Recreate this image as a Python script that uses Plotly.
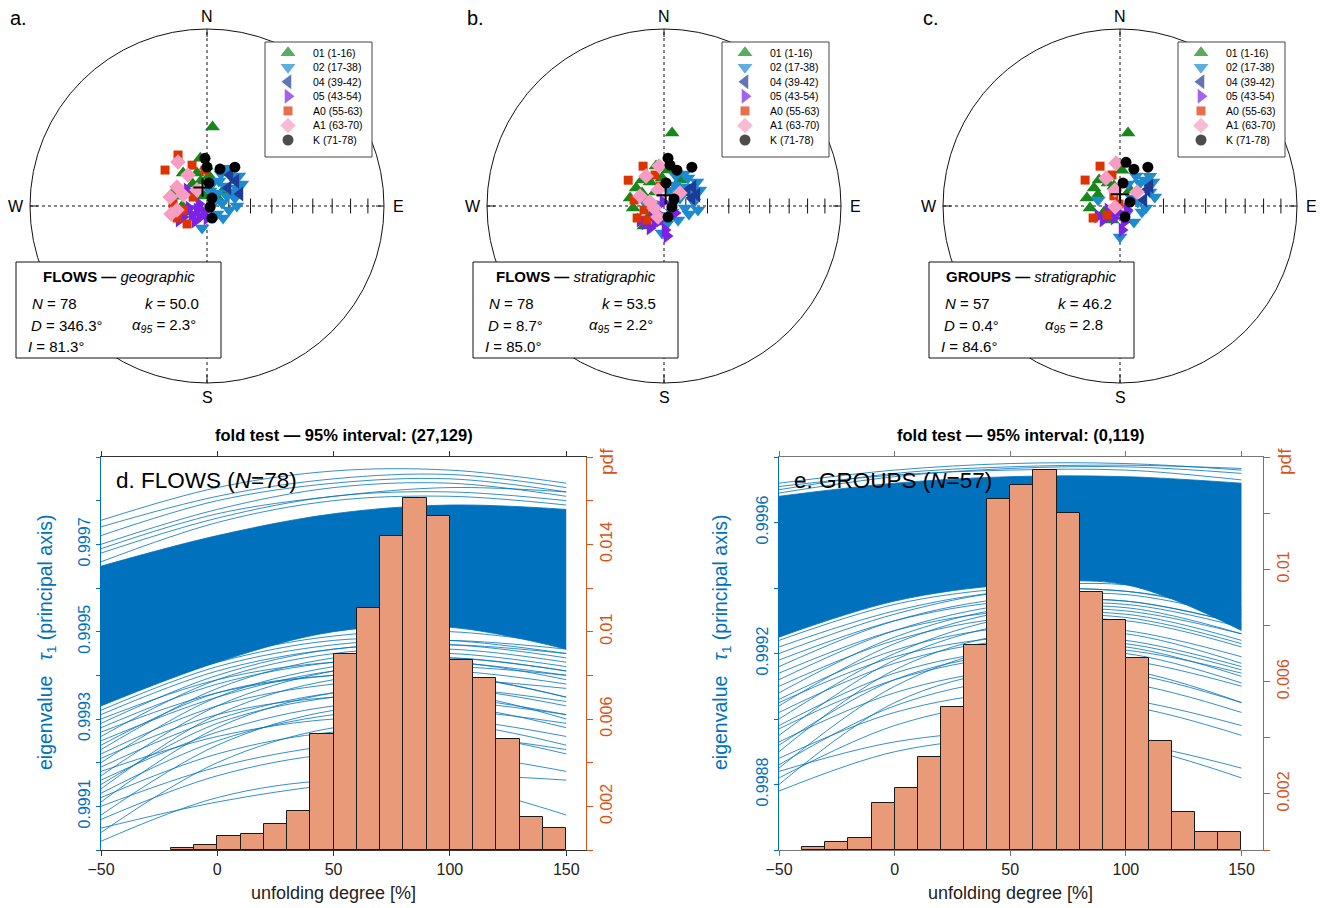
import math
import plotly.graph_objects as go

W, H = 1322, 908
FONT = "Liberation Sans, Arial, Helvetica, sans-serif"
BLUE = "#0072BD"
ORANGE = "#D95319"
SALMON = "#E99A79"

# ---------------- stereonet data: (declination, inclination) in degrees ----------------
GROUP_LABELS = ["01 (1-16)", "02 (17-38)", "04 (39-42)", "05 (43-54)",
                "A0 (55-63)", "A1 (63-70)", "K (71-78)"]
GROUP_SYMBOLS = ["triangle-up", "triangle-down", "triangle-left", "triangle-right",
                 "square", "diamond", "circle"]
GROUP_COLORS = ["#17871a", "#1d8bcf", "#1f3b98", "#7b22e4", "#dd3300", "#f79cc2", "#000000"]
GROUP_SIZES = [13, 13, 13, 13, 9, 12, 11]

# FLOWS, geographic coordinates
geo_01 = [(4, 53.1), (324, 71.3), (343, 74.2), (297, 73.6), (319, 81.6), (47, 80.6), (359, 71.7),
          (352, 67.8), (288, 75.5), (270, 78.6), (253, 80.4), (346, 78.2), (69, 83.6), (327, 78.0),
          (343, 85.2), (4, 76.2)]
geo_02 = [(27.8, 70.4), (59, 74.0), (37.6, 82.5), (78.7, 83.0), (192.8, 79.7), (41.8, 72.8),
          (25.6, 77.3), (74, 76.7), (42, 77.7), (58, 85.7), (46.8, 69.9), (100.3, 79.7),
          (12.8, 79.7), (23.6, 74.0), (61.7, 76.5), (57.8, 71.1), (128.7, 84.1), (11.3, 83.0),
          (63.4, 79.8), (126.9, 80.8), (90, 76.3)]
geo_04 = [(36.6, 72.3), (49.4, 77.3), (49.2, 72.5), (70, 73.9)]
geo_05 = [(245.4, 77.9), (248.2, 85.1), (212.5, 84.0), (308.7, 78.3), (243.4, 75.7), (239, 82.0),
          (206.6, 86.9), (263.7, 81.7), (218.7, 81.2), (259.1, 77.9), (180, 84.5), (284, 86.2)]
geo_A0 = [(330.4, 62.9), (310.6, 64.5), (339.9, 70.0), (356.8, 73.5), (302.7, 82.4), (260.5, 78.9),
          (248.2, 75.2), (228, 77.7), (273.4, 74.4)]
geo_A1 = [(326.6, 65.7), (328.5, 73.3), (302.3, 73.7), (283.7, 72.6), (294.6, 77.9), (328, 81.3),
          (262.4, 76.1), (257.5, 73.1)]
geo_K = [(357.6, 68.0), (0, 72.1), (19.4, 72.0), (35.7, 68.0), (5, 79.4), (32, 85.7), (108, 88.5),
         (157.4, 84.0)]

# FLOWS, stratigraphic coordinates
str_01 = [(6.3, 55.9), (319.8, 74.4), (329.7, 77.3), (355.9, 77.1), (283.2, 74.0), (266.3, 75.8),
          (300.6, 78.3), (327.3, 82.4), (31.6, 76.0), (302.7, 74.8), (233.1, 80.8), (6.3, 73.4),
          (348.7, 71.3), (190.6, 82.5), (45, 82.2), (225, 77.0)]
str_02 = [(286, 80.0), (40.6, 73.1), (54, 71.3), (45, 77.7), (63.4, 81.8), (95.4, 80.3),
          (184.2, 77.6), (27.6, 79.1), (61.7, 76.5), (82.4, 76.1), (126.9, 85.4), (135, 80.9),
          (66, 72.0), (32, 72.7), (17.4, 82.3), (288.4, 87.1), (107.7, 78.0), (21.8, 75.2),
          (170.5, 81.7), (96.7, 74.3), (77.5, 85.8)]
str_04 = [(56.8, 74.1), (74, 76.7), (56.9, 77.4), (71.6, 74.1)]
str_05 = [(177.6, 79.0), (228.2, 78.3), (225, 85.5), (122.5, 84.0), (243.4, 83.9), (239.7, 77.3),
          (195.9, 83.3), (108.4, 87.1), (212.5, 78.1), (346, 88.1), (207.9, 81.2), (174.3, 76.2)]
str_A0 = [(332.3, 69.3), (305.8, 69.7), (343.8, 75.2), (275.2, 85.0), (246, 76.5), (230.5, 79.9),
          (348.7, 80.7), (281.3, 76.0), (258.7, 80.7)]
str_A1 = [(352.9, 71.5), (285.9, 83.3), (208.6, 84.3), (50.9, 80.6), (339.4, 82.2), (329, 74.0),
          (292.6, 78.1), (258.7, 85.3)]
str_K = [(4.8, 67.9), (8.3, 71.0), (19.9, 72.5), (35.7, 68.0), (5, 79.4), (55, 84.4), (97, 86.3),
         (160, 84.6)]

# GROUPS, stratigraphic coordinates
grp_01 = [(6.3, 55.9), (321.1, 74.7), (332.4, 78.1), (283.6, 74.4), (266.2, 76.2), (296.6, 78.7),
          (3.2, 73.5), (343.3, 80.4), (304.7, 75.5), (32, 81.3), (209.7, 82.6), (249.4, 82.2)]
grp_02 = [(285.3, 79.6), (43.9, 73.5), (54, 71.3), (65, 74.8), (41, 76.0), (105.3, 79.6),
          (180, 75.8), (75.6, 73.5), (56.3, 83.4), (28.1, 74.4), (94.4, 78.1), (143.1, 85.4),
          (138.8, 80.3), (20, 79.3), (45, 70.6), (77.5, 81.6)]
grp_04 = [(59.4, 75.6), (76, 78.7), (56.3, 73.5)]
grp_05 = [(230.5, 79.9), (175.2, 79.0), (251.6, 84.2), (119.7, 86.3), (206.6, 83.9), (245.6, 78.9),
          (198.4, 87.1), (166, 82.4)]
grp_A0 = [(333.4, 69.5), (306.6, 70.0), (345.5, 75.3), (246, 76.5), (235.3, 82.8), (333, 89.0),
          (329, 84.6)]
grp_A1 = [(354.7, 70.2), (50.5, 79.9), (342.6, 82.3), (258.7, 87.7), (333.4, 75.7)]
grp_K = [(7.8, 69.7), (20.7, 71.9), (35.7, 68.0), (7.4, 79.4), (68.2, 85.1), (155.6, 84.5)]

# Fisher mean directions (D, I)
GEO_MEAN = (346.3, 81.3)
STR_MEAN = (8.7, 85.0)
GRP_MEAN = (0.4, 84.6)

# ---------------- fold test data ----------------
UNFOLD_X = [-50, 0, 50, 100, 150]

FLOWS_BAND_TOP = [0.99965, 0.99972, 0.99977, 0.99979, 0.99978]
FLOWS_BAND_BOTTOM = [0.99933, 0.99943, 0.99950, 0.99951, 0.99946]
FLOWS_UPPER = [
    [0.999755, 0.99983, 0.999868, 0.99987, 0.99984],
    [0.99974, 0.99981, 0.99985, 0.99986, 0.99983],
    [0.99972, 0.99980, 0.99984, 0.99985, 0.99982],
    [0.99970, 0.99978, 0.99983, 0.99984, 0.99981],
    [0.99968, 0.99976, 0.99981, 0.99982, 0.99980],
    [0.99966, 0.99975, 0.99980, 0.99981, 0.99979],
    [0.99969, 0.99977, 0.99981, 0.99983, 0.99982],
]
FLOWS_LOWER = [
    [0.99902, 0.99912, 0.99916, 0.99915, 0.99908],
    [0.99905, 0.99911, 0.99915, 0.99917, 0.99916],
    [0.99904, 0.99920, 0.99928, 0.99929, 0.99924],
    [0.99908, 0.99924, 0.99932, 0.99933, 0.99928],
    [0.99910, 0.99919, 0.99924, 0.99926, 0.99923],
    [0.99911, 0.99928, 0.99936, 0.99937, 0.99933],
    [0.99913, 0.99925, 0.99931, 0.99932, 0.99929],
    [0.99914, 0.99931, 0.99939, 0.99940, 0.99935],
    [0.99916, 0.99927, 0.99933, 0.99934, 0.99931],
    [0.99917, 0.99933, 0.99941, 0.99943, 0.99939],
    [0.99919, 0.99930, 0.99936, 0.99937, 0.99934],
    [0.99920, 0.99935, 0.99942, 0.99944, 0.99941],
    [0.99922, 0.99933, 0.99938, 0.99939, 0.99937],
    [0.99923, 0.99937, 0.99944, 0.99945, 0.99942],
    [0.99925, 0.99935, 0.99941, 0.99942, 0.99940],
    [0.99926, 0.99939, 0.99945, 0.99946, 0.99943],
    [0.99928, 0.99938, 0.99943, 0.99944, 0.99941],
    [0.99929, 0.99940, 0.99946, 0.99947, 0.99945],
    [0.99931, 0.99941, 0.99946, 0.99947, 0.99944],
    [0.99932, 0.99942, 0.99947, 0.99948, 0.99946],
    [0.99934, 0.99943, 0.99948, 0.99948, 0.99945],
    [0.99935, 0.99944, 0.99949, 0.99950, 0.99947],
    [0.99907, 0.99917, 0.99922, 0.99922, 0.99918],
    [0.99912, 0.99922, 0.99927, 0.99927, 0.99922],
    [0.99915, 0.99929, 0.99935, 0.99936, 0.99930],
    [0.99918, 0.99926, 0.99930, 0.99930, 0.99926],
    [0.99921, 0.99931, 0.99935, 0.99935, 0.99931],
    [0.99924, 0.99936, 0.99940, 0.99940, 0.99935],
    [0.99927, 0.99936, 0.99940, 0.99941, 0.99938],
    [0.99930, 0.99939, 0.99943, 0.99943, 0.99940],
]
FLOWS_BIN_LEFT = [-20, -10, 0, 10, 20, 30, 40, 50, 60, 70, 80, 90, 100, 110, 120, 130, 140]
FLOWS_PDF = [0.00011, 0.00023, 0.00064, 0.00073, 0.00121, 0.0018, 0.0053, 0.0090, 0.0111,
             0.0144, 0.0161, 0.0153, 0.0087, 0.0079, 0.0051, 0.0015, 0.0010]

GROUPS_BAND_TOP = [0.99968, 0.99972, 0.99974, 0.99974, 0.99972]
GROUPS_BAND_BOTTOM = [0.99925, 0.99936, 0.99941, 0.99941, 0.99927]
GROUPS_UPPER = [
    [0.99972, 0.99976, 0.99978, 0.99978, 0.99976],
    [0.99970, 0.99975, 0.99977, 0.999775, 0.999765],
    [0.99969, 0.99974, 0.999765, 0.99977, 0.99975],
    [0.99971, 0.999745, 0.99976, 0.99976, 0.99973],
]
GROUPS_LOWER = [
    [0.99880, 0.99905, 0.99915, 0.99915, 0.99905],
    [0.99882, 0.99898, 0.99905, 0.99904, 0.99895],
    [0.99885, 0.99910, 0.99922, 0.99922, 0.99913],
    [0.99888, 0.99902, 0.99908, 0.99906, 0.99898],
    [0.99890, 0.99915, 0.99926, 0.99926, 0.99917],
    [0.99893, 0.99908, 0.99915, 0.99914, 0.99905],
    [0.99895, 0.99918, 0.99929, 0.99930, 0.99922],
    [0.99897, 0.99912, 0.99919, 0.99918, 0.99910],
    [0.99900, 0.99920, 0.99931, 0.99932, 0.99924],
    [0.99902, 0.99917, 0.99924, 0.99923, 0.99915],
    [0.99904, 0.99923, 0.99933, 0.99934, 0.99926],
    [0.99906, 0.99921, 0.99928, 0.99927, 0.99919],
    [0.99908, 0.99925, 0.99934, 0.99935, 0.99928],
    [0.99910, 0.99924, 0.99931, 0.99931, 0.99923],
    [0.99912, 0.99927, 0.99935, 0.99936, 0.99929],
    [0.99914, 0.99927, 0.99933, 0.99933, 0.99926],
    [0.99916, 0.99930, 0.99937, 0.99938, 0.99931],
    [0.99918, 0.99930, 0.99936, 0.99936, 0.99929],
    [0.99920, 0.99932, 0.99939, 0.99939, 0.99932],
    [0.99922, 0.99933, 0.99939, 0.99939, 0.99933],
    [0.99924, 0.99935, 0.99940, 0.99941, 0.99934],
    [0.99878, 0.99890, 0.99894, 0.99892, 0.99882],
    [0.99886, 0.99904, 0.99912, 0.99911, 0.99902],
    [0.99892, 0.99912, 0.99920, 0.99920, 0.99911],
    [0.99898, 0.99914, 0.99921, 0.99921, 0.99914],
    [0.99905, 0.99919, 0.99925, 0.99924, 0.99916],
    [0.99884, 0.99893, 0.99896, 0.99893, 0.99885],
]
GROUPS_BIN_LEFT = [-40, -30, -20, -10, 0, 10, 20, 30, 40, 50, 60, 70, 80, 90, 100, 110, 120, 130, 140]
GROUPS_PDF = [0.00010, 0.00028, 0.00043, 0.00167, 0.0022, 0.0033, 0.0051, 0.0073, 0.0125, 0.0130,
              0.01355, 0.0120, 0.00918, 0.00819, 0.00683, 0.0039, 0.00135, 0.00064, 0.00064]
BIN_WIDTH = 10

# ---------------- stereonet panels ----------------
NET_PANELS = [
    dict(letter="a.", center=(207, 206), groups=[geo_01, geo_02, geo_04, geo_05, geo_A0, geo_A1, geo_K],
         mean=GEO_MEAN, head="<b>FLOWS \u2014</b> <i>geographic</i>",
         N="78", k="50.0", D="346.3°", a95="2.3°", I="81.3°"),
    dict(letter="b.", center=(664, 206), groups=[str_01, str_02, str_04, str_05, str_A0, str_A1, str_K],
         mean=STR_MEAN, head="<b>FLOWS \u2014</b> <i>stratigraphic</i>",
         N="78", k="53.5", D="8.7°", a95="2.2°", I="85.0°"),
    dict(letter="c.", center=(1120, 206), groups=[grp_01, grp_02, grp_04, grp_05, grp_A0, grp_A1, grp_K],
         mean=GRP_MEAN, head="<b>GROUPS \u2014</b> <i>stratigraphic</i>",
         N="57", k="46.2", D="0.4°", a95="2.8", I="84.6°"),
]
NET_RADIUS = 177      # px, equal-area net
NET_HALF = 200        # half size of each net subplot, px


def equal_area(dec, inc):
    """Equal-area (Schmidt) projection, in px from the net centre."""
    r = NET_RADIUS * math.sqrt(2) * math.sin(math.radians(90 - inc) / 2)
    return r * math.sin(math.radians(dec)), r * math.cos(math.radians(dec))


def text(x, y, txt, size, color="black", xref="paper", yref="paper", xanchor="center",
         yanchor="middle", angle=0):
    return dict(x=x, y=y, xref=xref, yref=yref, text=txt, showarrow=False, xanchor=xanchor,
                yanchor=yanchor, textangle=angle, font=dict(size=size, color=color))


fig = go.Figure()
layout = dict(width=W, height=H, margin=dict(l=0, r=0, t=0, b=0, pad=0, autoexpand=False),
              showlegend=False, paper_bgcolor="white", plot_bgcolor="white", hovermode=False,
              font=dict(family=FONT, color="black"))
shapes, annos = [], []

for i, p in enumerate(NET_PANELS):
    n = i + 1
    xa, ya = ("x", "y") if n == 1 else (f"x{n}", f"y{n}")
    cx, cy = p["center"]
    layout["xaxis" if n == 1 else f"xaxis{n}"] = dict(
        domain=[(cx - NET_HALF) / W, (cx + NET_HALF) / W], range=[-NET_HALF, NET_HALF],
        visible=False, fixedrange=True, anchor=ya, automargin=False)
    layout["yaxis" if n == 1 else f"yaxis{n}"] = dict(
        domain=[1 - (cy + NET_HALF) / H, 1 - (cy - NET_HALF) / H], range=[-NET_HALF, NET_HALF],
        visible=False, fixedrange=True, anchor=xa, automargin=False)

    base = dict(xref=xa, yref=ya, layer="below")
    # primitive circle and dotted cross-hair
    shapes.append(dict(type="circle", x0=-NET_RADIUS, x1=NET_RADIUS, y0=-NET_RADIUS, y1=NET_RADIUS,
                       line=dict(color="#111", width=1), **base))
    shapes.append(dict(type="line", x0=-NET_RADIUS, x1=NET_RADIUS, y0=0, y1=0,
                       line=dict(color="#111", width=1, dash="dot"), **base))
    shapes.append(dict(type="line", x0=0, x1=0, y0=-NET_RADIUS, y1=NET_RADIUS,
                       line=dict(color="#111", width=1, dash="dot"), **base))
    # cardinal ticks on the primitive
    for ang in (0, 90, 180, 270):
        sx, sy = math.sin(math.radians(ang)), math.cos(math.radians(ang))
        shapes.append(dict(type="line", x0=sx * NET_RADIUS, y0=sy * NET_RADIUS,
                           x1=sx * (NET_RADIUS - 8), y1=sy * (NET_RADIUS - 8),
                           line=dict(color="#111", width=1), **base))
    # inclination ticks every 10 degrees along the east radius
    for inc in range(80, 0, -10):
        tx, _ = equal_area(90, inc)
        shapes.append(dict(type="line", x0=tx, x1=tx, y0=-7.5, y1=7.5,
                           line=dict(color="#111", width=1), **base))
    # legend frame and statistics frame
    shapes.append(dict(type="rect", x0=58, x1=165, y0=49, y1=164, fillcolor="white",
                       line=dict(color="#444", width=1), **base))
    shapes.append(dict(type="rect", x0=-191, x1=14, y0=-152, y1=-56, fillcolor="white",
                       line=dict(color="#111", width=1), **base))

    # site directions
    for g, pts in enumerate(p["groups"]):
        xy = [equal_area(d, inc) for d, inc in pts]
        fig.add_trace(go.Scatter(
            x=[q[0] for q in xy], y=[q[1] for q in xy], mode="markers", xaxis=xa, yaxis=ya,
            marker=dict(symbol=GROUP_SYMBOLS[g], color=GROUP_COLORS[g], size=GROUP_SIZES[g],
                        line=dict(width=0)), cliponaxis=False))
    mx, my = equal_area(*p["mean"])
    fig.add_trace(go.Scatter(x=[mx], y=[my], mode="markers", xaxis=xa, yaxis=ya,
                             marker=dict(symbol="cross-thin", size=13, color="black",
                                         line=dict(color="black", width=2))))
    # legend symbols
    rows_y = [153.3 - 14.55 * j for j in range(len(GROUP_LABELS))]
    fig.add_trace(go.Scatter(
        x=[81] * len(GROUP_LABELS), y=rows_y, mode="markers", xaxis=xa, yaxis=ya,
        marker=dict(symbol=GROUP_SYMBOLS, color=GROUP_COLORS, size=GROUP_SIZES, line=dict(width=0))))
    for j, lab in enumerate(GROUP_LABELS):
        annos.append(text(104, rows_y[j], lab, 10.5, xref=xa, yref=ya, xanchor="left"))

    # compass labels
    for txt, ax_, ay_ in (("N", 0, 190), ("S", 0, -191), ("W", -191, 0), ("E", 191, 0)):
        annos.append(text(ax_, ay_, txt, 16, xref=xa, yref=ya))
    # statistics text
    annos.append(text(-88.5, -70.5, p["head"], 15, xref=xa, yref=ya))
    stat_rows = [
        (-177, -97, f"<i>N</i> = {p['N']}"), (-64, -97, f"<i>k</i> = {p['k']}"),
        (-178, -119.5, f"<i>D</i> = {p['D']}"),
        (-77, -119.5, f"<i>α</i><sub><i>95</i></sub> = {p['a95']}"),
        (-181, -140, f"<i>I</i> = {p['I']}"),
    ]
    for sx, sy, txt in stat_rows:
        annos.append(text(sx, sy, txt, 15, xref=xa, yref=ya, xanchor="left"))
    annos.append(text((cx - 199) / W, 1 - 18 / H, p["letter"], 20, xanchor="left"))

# ---------------- fold test panels ----------------
FOLD_PANELS = [
    dict(xa="x4", ya="y4", yb="y5", box=(101, 586), xmax=158.5,
         yrange=[0.9990, 0.9999], ydt=0.0001, yvals=[0.9991, 0.9993, 0.9995, 0.9997],
         ylabels=["0.9991", "0.9993", "0.9995", "0.9997"],
         prange=[0, 0.018], pvals=[0.002, 0.006, 0.010, 0.014],
         plabels=["0.002", "0.006", "0.01", "0.014"],
         band=(FLOWS_BAND_BOTTOM, FLOWS_BAND_TOP), lines=FLOWS_UPPER + FLOWS_LOWER,
         bins=FLOWS_BIN_LEFT, pdf=FLOWS_PDF,
         title="<b>fold test \u2014 95% interval: (27,129)</b>",
         tag="d. FLOWS (<i>N</i>=78)", eig_x=46, pdf_x=607, axcol="#333"),
    dict(xa="x5", ya="y6", yb="y7", box=(779, 1263), xmax=159.3,
         yrange=[0.9986, 0.9998], ydt=0.0002, yvals=[0.9988, 0.9992, 0.9996],
         ylabels=["0.9988", "0.9992", "0.9996"],
         prange=[0, 0.014], pvals=[0.002, 0.006, 0.010],
         plabels=["0.002", "0.006", "0.01"],
         band=(GROUPS_BAND_BOTTOM, GROUPS_BAND_TOP), lines=GROUPS_UPPER + GROUPS_LOWER,
         bins=GROUPS_BIN_LEFT, pdf=GROUPS_PDF,
         title="<b>fold test \u2014 95% interval: (0,119)</b>",
         tag="e. GROUPS (<i>N</i>=57)", eig_x=721, pdf_x=1285, axcol="#777"),
]
PLOT_TOP, PLOT_BOTTOM = 457, 850

for fp in FOLD_PANELS:
    x0, x1 = fp["box"]
    dom_y = [1 - PLOT_BOTTOM / H, 1 - PLOT_TOP / H]
    layout["xaxis" + fp["xa"][1:]] = dict(
        domain=[x0 / W, x1 / W], range=[-50, fp["xmax"]], anchor=fp["ya"],
        tickvals=[-50, 0, 50, 100, 150], ticks="outside", ticklen=5, tickcolor=fp["axcol"],
        showline=True, linecolor=fp["axcol"], linewidth=1, mirror="ticks", showgrid=False,
        zeroline=False, tickfont=dict(size=16, color="#222"), fixedrange=True, automargin=False)
    layout["yaxis" + fp["ya"][1:]] = dict(
        domain=dom_y, range=fp["yrange"], anchor=fp["xa"], tickvals=fp["yvals"],
        ticktext=fp["ylabels"], tickangle=-90, ticks="outside", ticklen=4,
        tickcolor=BLUE, showline=True, linecolor=BLUE, linewidth=1, showgrid=False,
        minor=dict(ticks="outside", ticklen=4, tickcolor=BLUE, dtick=fp["ydt"],
                   tick0=fp["yrange"][0], showgrid=False),
        zeroline=False, tickfont=dict(size=16, color=BLUE), fixedrange=True, automargin=False)
    layout["yaxis" + fp["yb"][1:]] = dict(
        range=fp["prange"], overlaying=fp["ya"], side="right", anchor=fp["xa"],
        tickvals=fp["pvals"], ticktext=fp["plabels"], tickangle=-90, ticks="outside", ticklen=6,
        tickcolor=ORANGE, showline=True, linecolor=ORANGE, linewidth=1, showgrid=False,
        minor=dict(ticks="outside", ticklen=6, tickcolor=ORANGE, dtick=0.002, tick0=0,
                   showgrid=False),
        zeroline=False, tickfont=dict(size=16, color=ORANGE), fixedrange=True, automargin=False)

    # dense core of bootstrap eigenvalue curves
    lo, hi = fp["band"]
    fig.add_trace(go.Scatter(x=UNFOLD_X, y=lo, mode="lines", xaxis=fp["xa"], yaxis=fp["ya"],
                             line=dict(color=BLUE, width=0.8, shape="spline")))
    fig.add_trace(go.Scatter(x=UNFOLD_X, y=hi, mode="lines", xaxis=fp["xa"], yaxis=fp["ya"],
                             fill="tonexty", fillcolor=BLUE,
                             line=dict(color=BLUE, width=0.8, shape="spline")))
    for vals in fp["lines"]:
        fig.add_trace(go.Scatter(x=UNFOLD_X, y=vals, mode="lines", xaxis=fp["xa"], yaxis=fp["ya"],
                                 line=dict(color=BLUE, width=0.8, shape="spline")))
    # bootstrap histogram of the unfolding maximum
    fig.add_trace(go.Bar(x=[b + BIN_WIDTH / 2 for b in fp["bins"]], y=fp["pdf"],
                         width=[BIN_WIDTH] * len(fp["bins"]), xaxis=fp["xa"], yaxis=fp["yb"],
                         marker=dict(color=SALMON, line=dict(color="#1a1a1a", width=1))))

    xc = x0 + 100 * (x1 - x0) / (50 + fp["xmax"])
    annos.append(text((x0 + x1) / 2 / W, 1 - 435 / H, fp["title"], 16.5))
    annos.append(text((x0 + 13) / W, 1 - 481 / H, fp["tag"], 22.5, xanchor="left"))
    annos.append(text(fp["eig_x"] / W, 1 - 642 / H,
                      "eigenvalue \u2002<i>τ</i><sub>1</sub> (principal axis)", 19.5, BLUE, angle=-90))
    annos.append(text(fp["pdf_x"] / W, 1 - 462 / H, "pdf", 19, ORANGE, angle=-90))
    annos.append(text(xc / W, 1 - 893 / H, "unfolding degree [%]", 18, "#222"))

layout["shapes"] = shapes
layout["annotations"] = annos
layout["bargap"] = 0
fig.update_layout(**layout)
fig.write_html("out.html")
